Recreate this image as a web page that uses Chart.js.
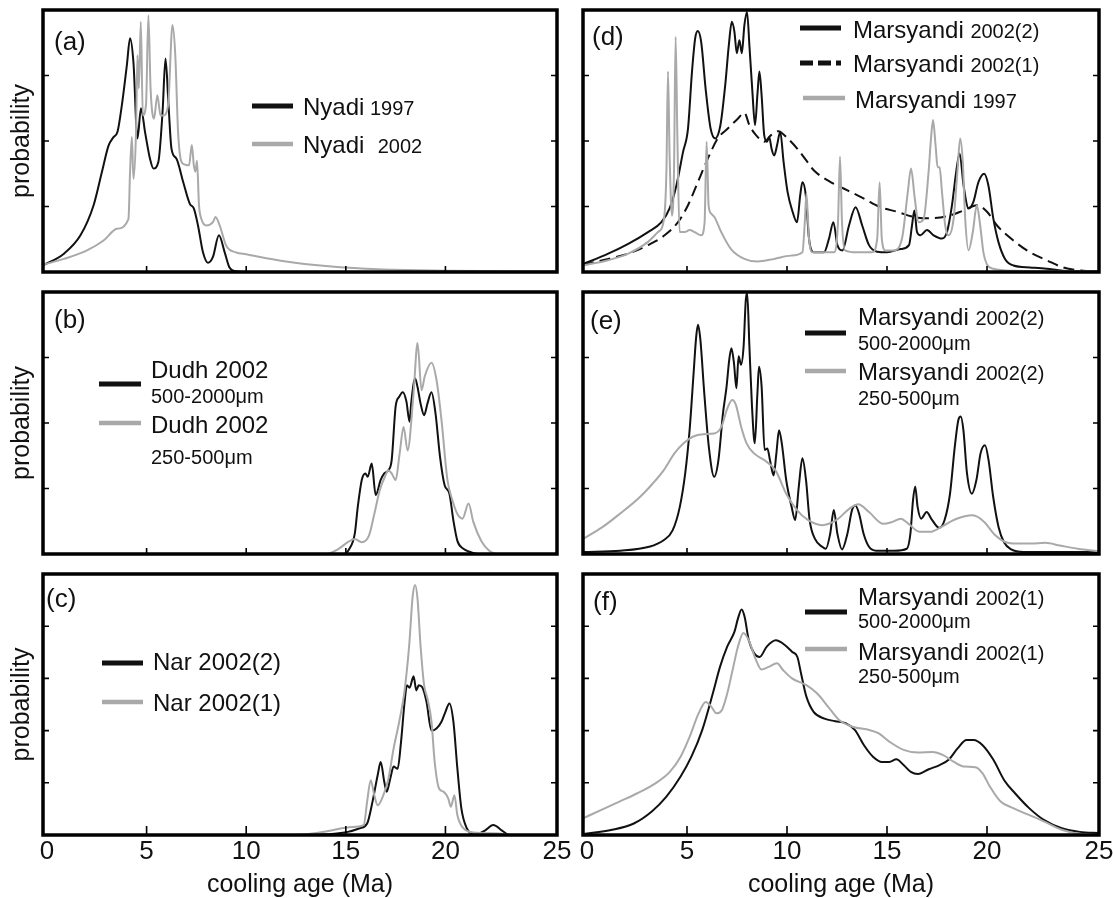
<!DOCTYPE html>
<html>
<head>
<meta charset="utf-8">
<script src="https://cdn.jsdelivr.net/npm/chart.js@4.4.0/dist/chart.umd.min.js"></script>
<style>
  html, body { margin: 0; padding: 0; background: #fff; overflow: hidden; }
  #wrap { position: relative; width: 1113px; height: 898px; }
  canvas { position: absolute; }
</style>
</head>
<body>
<div id="wrap">
  <canvas id="pa"></canvas>
  <canvas id="pb"></canvas>
  <canvas id="pc"></canvas>
  <canvas id="pd"></canvas>
  <canvas id="pe"></canvas>
  <canvas id="pf"></canvas>
</div>
<script>
/* x axis: cooling age (Ma) */
const xMin = -0.2, xMax = 25.6;
const xTickValues = [0, 5, 10, 15, 20, 25];
const xTickLabels = ['0', '5', '10', '15', '20', '25'];

/* (a) Nyadi -- [age, probability] */
const nyadi1997 = [[-0.2,0.1],[0.85,0.28],[1.68,0.56],[2.34,1.02],[2.76,1.53],[3.09,1.93],[3.34,2.06],[3.54,2.14],[3.76,2.55],[4.01,3.16],[4.17,3.57],[4.34,3.2],[4.54,2.04],[4.72,2.5],[4.92,2.14],[5.17,1.73],[5.34,1.58],[5.59,1.68],[5.8,2.44],[5.95,3.26],[6.1,2.55],[6.25,1.88],[6.5,1.73],[6.84,1.37],[7.17,1.04],[7.37,0.97],[7.58,0.71],[7.83,0.3],[8.08,0.14],[8.33,0.23],[8.63,0.56],[8.92,0.3],[9.16,0.07],[9.48,0.01],[10,0],[25.6,0]];
const nyadi2002 = [[-0.2,0.11],[0.85,0.2],[2.01,0.33],[2.84,0.48],[3.51,0.66],[4.09,0.81],[4.17,1.53],[4.26,2.06],[4.34,1.42],[4.47,2.14],[4.54,3.31],[4.61,2.8],[4.71,3.82],[4.81,2.39],[4.97,2.55],[5.09,3.92],[5.2,2.8],[5.37,2.34],[5.54,2.7],[5.7,2.39],[5.84,2.39],[6.08,2.55],[6.3,3.77],[6.44,3.31],[6.58,2.14],[6.75,1.68],[6.92,1.64],[7.13,1.63],[7.27,1.94],[7.37,1.63],[7.45,1.53],[7.53,1.7],[7.63,1.02],[7.75,0.81],[8.0,0.71],[8.33,0.76],[8.46,0.84],[8.67,0.71],[9.0,0.4],[9.48,0.3],[10,0.27],[12,0.16],[14,0.09],[16,0.05],[18,0.03],[20,0.02],[25.6,0.01]];

/* (b) Dudh 2002 */
const dudhCoarse = [[-0.2,0],[14.9,0],[15.18,0.08],[15.45,0.31],[15.6,0.72],[15.8,1.13],[15.98,1.23],[16.1,1.18],[16.3,1.38],[16.5,0.9],[16.75,1.13],[16.93,1.23],[17.14,1.28],[17.3,1.43],[17.5,2.25],[17.68,2.4],[17.86,2.47],[18.04,2.33],[18.2,2.02],[18.28,2.3],[18.48,2.68],[18.6,2.55],[18.75,2.3],[18.93,2.12],[19.1,2.3],[19.3,2.47],[19.5,2.15],[19.73,1.48],[19.96,1.05],[20.2,0.92],[20.4,0.51],[20.6,0.2],[20.9,0.08],[21.25,0.03],[21.6,0],[25.6,0]];
const dudhFine = [[-0.2,0],[14.0,0],[14.64,0.08],[15.1,0.18],[15.45,0.23],[15.8,0.18],[16.16,0.28],[16.43,0.61],[16.7,0.97],[16.96,1.18],[17.14,1.28],[17.3,1.23],[17.5,1.13],[17.7,1.53],[17.9,1.94],[18.1,1.58],[18.4,2.46],[18.6,3.22],[18.8,2.5],[18.96,2.71],[19.3,2.92],[19.55,2.66],[19.8,2.05],[20.1,1.13],[20.35,0.82],[20.6,0.61],[20.86,0.54],[21.16,0.77],[21.4,0.49],[21.8,0.2],[22.2,0.05],[22.6,0],[25.6,0]];

/* (c) Nar */
const nar2002_2 = [[-0.2,0],[12,0],[13.75,0.01],[15.1,0.06],[15.7,0.13],[16.07,0.22],[16.34,0.64],[16.6,1.15],[16.75,1.4],[16.93,1.02],[17.05,0.83],[17.23,1.08],[17.4,1.31],[17.6,1.27],[17.77,1.78],[17.95,2.55],[18.07,2.87],[18.2,2.82],[18.4,3.04],[18.54,2.77],[18.66,2.87],[18.84,2.83],[19.05,2.55],[19.3,2.0],[19.55,2.04],[19.8,2.17],[20.0,2.36],[20.2,2.52],[20.4,2.17],[20.6,1.27],[20.8,0.51],[21.07,0.13],[21.5,0.01],[21.96,0.08],[22.4,0.19],[22.86,0.08],[23.2,0],[25.6,0]];
const nar2002_1 = [[-0.2,0],[12.5,0],[14.2,0.08],[14.8,0.13],[15.5,0.16],[15.9,0.19],[16.07,0.64],[16.25,1.05],[16.43,0.76],[16.6,0.57],[16.88,0.76],[17.14,1.08],[17.4,1.66],[17.68,2.17],[17.95,2.77],[18.18,3.63],[18.36,4.59],[18.48,4.79],[18.6,4.52],[18.75,3.63],[18.93,2.87],[19.1,2.61],[19.3,2.17],[19.46,1.4],[19.68,0.89],[19.9,0.83],[20.14,0.7],[20.27,0.54],[20.45,0.76],[20.6,0.38],[20.9,0.13],[21.4,0.05],[22.7,0.03],[23.2,0],[25.6,0]];

/* (d) Marsyandi */
const marsyandi2002_2 = [[-0.2,0.12],[1.06,0.28],[2.06,0.43],[3.05,0.61],[3.72,0.76],[4.13,0.97],[4.47,1.32],[4.8,1.83],[5.05,2.19],[5.25,3.06],[5.41,3.57],[5.54,3.68],[5.71,3.51],[5.93,2.8],[6.18,2.19],[6.41,2.04],[6.67,2.24],[6.91,2.85],[7.09,3.46],[7.24,3.82],[7.37,3.67],[7.49,3.34],[7.62,3.54],[7.74,3.34],[7.87,3.77],[8.0,3.97],[8.13,3.41],[8.27,2.75],[8.4,2.24],[8.53,2.75],[8.62,3.06],[8.73,2.7],[8.86,2.09],[9.0,1.99],[9.11,2.06],[9.23,1.88],[9.36,1.78],[9.5,1.93],[9.66,2.14],[9.83,1.68],[10.03,1.22],[10.28,0.92],[10.5,0.76],[10.66,1.17],[10.77,1.37],[10.94,1.17],[11.1,0.51],[11.35,0.3],[11.85,0.3],[12.1,0.51],[12.32,0.76],[12.52,0.41],[12.77,0.33],[13.1,0.71],[13.43,0.99],[13.76,0.71],[14.1,0.41],[14.5,0.31],[15.0,0.3],[15.67,0.35],[16.1,0.41],[16.25,0.71],[16.37,0.94],[16.5,0.61],[16.67,0.56],[17.0,0.64],[17.33,0.56],[17.75,0.51],[18.0,0.61],[18.25,1.02],[18.46,1.53],[18.63,1.81],[18.83,1.32],[19.08,0.97],[19.32,1.07],[19.57,1.37],[19.86,1.5],[20.07,1.32],[20.32,0.81],[20.57,0.46],[20.9,0.2],[21.32,0.1],[22.15,0.07],[22.98,0.05],[23.8,0.02],[25.6,0.01]];
const marsyandi2002_1 = [[-0.2,0.11],[1.06,0.2],[2.06,0.28],[3.05,0.41],[3.88,0.56],[4.55,0.76],[5.05,1.02],[5.54,1.37],[6.04,1.73],[6.54,2.04],[7.04,2.19],[7.54,2.34],[7.87,2.43],[8.12,2.24],[8.45,2.09],[8.86,1.99],[9.2,2.09],[9.56,2.15],[10.03,2.04],[10.52,1.88],[11.02,1.68],[11.35,1.55],[12.2,1.37],[13.0,1.25],[13.85,1.12],[14.67,0.99],[15.5,0.92],[16.34,0.84],[17.0,0.82],[18.0,0.85],[18.83,0.94],[19.5,1.02],[20.0,0.92],[20.5,0.71],[21.32,0.48],[22.15,0.3],[22.98,0.18],[23.8,0.07],[24.8,0.02],[25.6,0.01]];
const marsyandi1997 = [[-0.2,0.1],[1.06,0.18],[2.06,0.28],[3.05,0.46],[3.55,0.61],[3.85,0.81],[3.97,1.53],[4.05,3.06],[4.13,1.78],[4.25,0.86],[4.35,1.53],[4.43,3.59],[4.52,2.04],[4.63,0.61],[4.88,0.61],[5.13,0.64],[5.38,0.61],[5.71,0.56],[5.88,0.76],[5.98,1.99],[6.08,1.02],[6.21,0.89],[6.37,0.84],[6.71,0.61],[7.2,0.35],[7.87,0.2],[8.53,0.16],[9.36,0.2],[10.19,0.25],[10.77,0.3],[10.89,0.76],[10.97,1.2],[11.1,0.51],[11.27,0.3],[11.69,0.3],[12.35,0.3],[12.55,0.76],[12.65,1.76],[12.75,0.76],[12.9,0.33],[13.5,0.3],[14.26,0.3],[14.51,0.51],[14.63,1.37],[14.74,0.51],[14.92,0.33],[15.34,0.33],[15.75,0.51],[16.04,1.22],[16.2,1.58],[16.39,1.12],[16.58,0.76],[16.83,0.81],[17.08,1.53],[17.2,2.04],[17.3,2.32],[17.43,1.93],[17.53,1.6],[17.63,1.6],[17.75,1.22],[17.91,0.71],[18.08,0.56],[18.33,0.81],[18.52,1.53],[18.66,2.04],[18.79,1.68],[18.91,0.81],[19.08,0.33],[19.29,0.61],[19.49,1.02],[19.66,0.71],[19.82,0.3],[19.99,0.12],[20.32,0.05],[21.3,0.02],[25.6,0.01]];

/* (e) Marsyandi 2002(2) by grain size */
const mars2Coarse = [[-0.2,0.03],[1.67,0.05],[3.1,0.11],[3.83,0.21],[4.28,0.36],[4.64,0.72],[4.91,1.23],[5.13,1.89],[5.33,2.76],[5.46,3.32],[5.55,3.5],[5.67,3.27],[5.85,2.51],[6.09,1.64],[6.36,1.18],[6.57,1.43],[6.8,2.15],[6.98,2.56],[7.11,2.96],[7.22,3.14],[7.35,2.91],[7.47,2.53],[7.58,3.02],[7.7,2.89],[7.83,3.17],[7.94,3.88],[8.01,3.98],[8.12,3.17],[8.25,2.25],[8.39,1.69],[8.52,2.45],[8.6,2.86],[8.73,2.56],[8.88,1.59],[9.02,1.61],[9.15,1.43],[9.33,1.2],[9.47,1.54],[9.6,1.89],[9.74,1.69],[9.96,1.13],[10.23,0.72],[10.41,0.52],[10.59,1.03],[10.77,1.46],[10.95,1.13],[11.13,0.52],[11.4,0.23],[11.76,0.11],[11.94,0.08],[12.16,0.31],[12.34,0.67],[12.52,0.31],[12.75,0.07],[13.02,0.31],[13.25,0.67],[13.42,0.74],[13.6,0.62],[13.83,0.31],[14.1,0.11],[14.46,0.05],[15.36,0.05],[15.99,0.08],[16.17,0.31],[16.3,0.82],[16.41,1.03],[16.53,0.72],[16.71,0.54],[16.98,0.64],[17.25,0.52],[17.61,0.4],[17.88,0.52],[18.15,0.92],[18.39,1.64],[18.57,2.05],[18.69,2.1],[18.82,1.89],[19.0,1.23],[19.24,0.92],[19.47,1.13],[19.68,1.54],[19.9,1.66],[20.08,1.43],[20.31,0.87],[20.58,0.41],[20.85,0.18],[21.21,0.07],[21.84,0.03],[25.6,0.03]];
const mars2Fine = [[-0.2,0.23],[0.77,0.41],[1.67,0.62],[2.58,0.85],[3.3,1.08],[3.84,1.28],[4.38,1.54],[4.83,1.69],[5.28,1.79],[5.82,1.83],[6.36,1.84],[6.72,1.94],[6.99,2.2],[7.26,2.35],[7.44,2.28],[7.71,1.94],[7.98,1.69],[8.34,1.54],[8.88,1.43],[9.42,1.28],[9.96,0.92],[10.5,0.67],[11.04,0.52],[11.76,0.44],[12.48,0.52],[13.11,0.69],[13.56,0.76],[14.1,0.64],[14.82,0.46],[15.27,0.49],[15.69,0.54],[16.08,0.46],[16.62,0.34],[17.16,0.34],[17.7,0.41],[18.42,0.53],[19.29,0.59],[19.86,0.49],[20.4,0.29],[20.94,0.18],[21.48,0.16],[22.2,0.16],[22.92,0.17],[23.64,0.13],[24.54,0.08],[25.6,0.04]];

/* (f) Marsyandi 2002(1) by grain size */
const mars1Coarse = [[-0.2,0.02],[1.26,0.1],[2.34,0.22],[3.24,0.45],[3.96,0.73],[4.68,1.12],[5.22,1.5],[5.76,2.01],[6.29,2.71],[6.65,3.22],[7.01,3.61],[7.37,3.89],[7.55,4.15],[7.73,4.32],[7.88,4.18],[8.09,3.73],[8.36,3.48],[8.63,3.41],[8.99,3.61],[9.44,3.73],[9.89,3.64],[10.25,3.51],[10.52,3.41],[10.7,3.1],[10.97,2.65],[11.33,2.36],[11.87,2.23],[12.41,2.18],[12.95,2.14],[13.4,2.01],[13.85,1.72],[14.3,1.5],[14.75,1.4],[15.11,1.4],[15.47,1.45],[15.83,1.34],[16.19,1.21],[16.55,1.17],[17.09,1.26],[17.63,1.34],[18.08,1.44],[18.53,1.66],[18.98,1.82],[19.33,1.82],[19.78,1.72],[20.32,1.44],[20.86,1.05],[21.4,0.8],[22.12,0.51],[22.84,0.29],[23.74,0.13],[24.64,0.06],[25.6,0.04]];
const mars1Fine = [[-0.2,0.32],[0.72,0.48],[1.62,0.64],[2.52,0.8],[3.42,0.99],[4.14,1.21],[4.68,1.5],[5.13,1.88],[5.58,2.33],[5.94,2.55],[6.21,2.46],[6.47,2.33],[6.74,2.39],[7.01,2.71],[7.28,3.16],[7.55,3.61],[7.82,3.87],[8.09,3.73],[8.42,3.38],[8.72,3.17],[9.08,3.22],[9.5,3.29],[9.8,3.16],[10.25,3.0],[10.97,2.87],[11.51,2.71],[12.05,2.46],[12.59,2.21],[13.31,2.07],[14.03,2.02],[14.57,1.95],[15.11,1.79],[15.83,1.63],[16.55,1.58],[17.27,1.59],[17.81,1.53],[18.35,1.4],[18.88,1.31],[19.42,1.3],[19.78,1.18],[20.14,0.93],[20.68,0.64],[21.22,0.53],[21.94,0.41],[22.84,0.26],[23.74,0.1],[24.64,0.02],[25.6,0]];

const FONT = "'Liberation Sans', Arial, Helvetica, sans-serif";
const BLACK = '#111111';
const GRAY = '#a9a9a9';

// canvas placement per row / column (page pixels)
const rows = [
  { top: 0, h: 282, xH: 10, tickLen: 6 },
  { top: 282, h: 282, xH: 10, tickLen: 6 },
  { top: 564, h: 334, xH: 63, tickLen: 9 }
];
const cols = [
  { left: 0, w: 600, yW: 43, padRight: 43 },
  { left: 560, w: 570, yW: 23, padRight: 31 }
];

const panels = [
  { id: 'pa', row: 0, col: 0, yMax: 4, label: '(a)', labelPos: [54, 50],
    series: [{ data: nyadi2002, color: GRAY }, { data: nyadi1997, color: BLACK }],
    legend: [
      { line: [252, 293, 106], color: BLACK, width: 5, tx: 303, ty: 115, text: [['Nyadi', 24], [' 1997', 20]] },
      { line: [252, 293, 144], color: GRAY, width: 4.5, tx: 303, ty: 153, text: [['Nyadi  ', 24], ['2002', 20]] }
    ] },
  { id: 'pb', row: 1, col: 0, yMax: 4, label: '(b)', labelPos: [54, 328],
    series: [{ data: dudhFine, color: GRAY }, { data: dudhCoarse, color: BLACK }],
    legend: [
      { line: [99, 141, 384], color: BLACK, width: 5, tx: 151, ty: 378, text: [['Dudh 2002', 24]], sub: '500-2000\u03bcm', sy: 403 },
      { line: [99, 141, 423], color: GRAY, width: 4.5, tx: 151, ty: 433, text: [['Dudh 2002', 24]], sub: '250-500\u03bcm', sy: 464 }
    ] },
  { id: 'pc', row: 2, col: 0, yMax: 5, label: '(c)', labelPos: [46, 607],
    series: [{ data: nar2002_1, color: GRAY }, { data: nar2002_2, color: BLACK }],
    legend: [
      { line: [102, 143, 663], color: BLACK, width: 5, tx: 153, ty: 670, text: [['Nar 2002(2)', 24]] },
      { line: [102, 143, 702], color: GRAY, width: 4.5, tx: 153, ty: 711, text: [['Nar 2002(1)', 24]] }
    ] },
  { id: 'pd', row: 0, col: 1, yMax: 4, label: '(d)', labelPos: [592, 45],
    series: [{ data: marsyandi1997, color: GRAY }, { data: marsyandi2002_1, color: BLACK, dash: [11, 6] }, { data: marsyandi2002_2, color: BLACK }],
    legend: [
      { line: [800, 841, 28], color: BLACK, width: 5, tx: 853, ty: 38, text: [['Marsyandi ', 24], ['2002(2)', 20]] },
      { line: [800, 841, 63], color: BLACK, width: 5, dash: [13, 5], tx: 853, ty: 72, text: [['Marsyandi ', 24], ['2002(1)', 20]] },
      { line: [803, 845, 98], color: GRAY, width: 4.5, tx: 855, ty: 108, text: [['Marsyandi ', 24], ['1997', 20]] }
    ] },
  { id: 'pe', row: 1, col: 1, yMax: 4, label: '(e)', labelPos: [590, 329],
    series: [{ data: mars2Fine, color: GRAY }, { data: mars2Coarse, color: BLACK }],
    legend: [
      { line: [805, 846, 333], color: BLACK, width: 5, tx: 858, ty: 325, text: [['Marsyandi ', 24], ['2002(2)', 20]], sub: '500-2000\u03bcm', sy: 350 },
      { line: [805, 846, 371], color: GRAY, width: 4.5, tx: 858, ty: 380, text: [['Marsyandi ', 24], ['2002(2)', 20]], sub: '250-500\u03bcm', sy: 405 }
    ] },
  { id: 'pf', row: 2, col: 1, yMax: 5, label: '(f)', labelPos: [593, 610],
    series: [{ data: mars1Fine, color: GRAY }, { data: mars1Coarse, color: BLACK }],
    legend: [
      { line: [805, 847, 612], color: BLACK, width: 5, tx: 858, ty: 605, text: [['Marsyandi ', 24], ['2002(1)', 20]], sub: '500-2000\u03bcm', sy: 628 },
      { line: [805, 847, 649], color: GRAY, width: 4.5, tx: 858, ty: 660, text: [['Marsyandi ', 24], ['2002(1)', 20]], sub: '250-500\u03bcm', sy: 683 }
    ] }
];

// thick box with inward tick marks
function framePlugin(tickLen) {
  return {
    id: 'frame',
    afterDraw(chart) {
      const { ctx, chartArea: a, scales: { x, y } } = chart;
      ctx.save();
      ctx.strokeStyle = '#000';
      ctx.lineWidth = 1.6;
      ctx.beginPath();
      for (let v = 1; v < y.max; v++) {
        const py = y.getPixelForValue(v);
        ctx.moveTo(a.left, py); ctx.lineTo(a.left + 6, py);
        ctx.moveTo(a.right, py); ctx.lineTo(a.right - 6, py);
      }
      xTickValues.slice(1, -1).forEach(v => {
        const px = x.getPixelForValue(v);
        ctx.moveTo(px, a.bottom); ctx.lineTo(px, a.bottom - tickLen);
      });
      ctx.stroke();
      ctx.lineWidth = 3.5;
      ctx.strokeRect(a.left, a.top, a.right - a.left, a.bottom - a.top);
      ctx.restore();
    }
  };
}

// panel letter and legend, drawn as canvas text
function textPlugin(p, ox, oy) {
  return {
    id: 'panelText',
    afterDraw(chart) {
      const ctx = chart.ctx;
      ctx.save();
      ctx.fillStyle = '#111';
      ctx.textBaseline = 'alphabetic';
      ctx.font = '26px ' + FONT;
      ctx.fillText(p.label, p.labelPos[0] - ox, p.labelPos[1] - oy);
      p.legend.forEach(it => {
        ctx.strokeStyle = it.color;
        ctx.lineWidth = it.width;
        ctx.setLineDash(it.dash || []);
        ctx.beginPath();
        ctx.moveTo(it.line[0] - ox, it.line[2] - oy);
        ctx.lineTo(it.line[1] - ox, it.line[2] - oy);
        ctx.stroke();
        ctx.setLineDash([]);
        let tx = it.tx - ox;
        it.text.forEach(([t, size]) => {
          ctx.font = size + 'px ' + FONT;
          ctx.fillText(t, tx, it.ty - oy);
          tx += ctx.measureText(t).width;
        });
        if (it.sub) {
          ctx.font = '20px ' + FONT;
          ctx.fillText(it.sub, it.tx - ox, it.sy - oy);
        }
      });
      ctx.restore();
    }
  };
}

panels.forEach(p => {
  const r = rows[p.row], c = cols[p.col];
  const canvas = document.getElementById(p.id);
  canvas.width = c.w;
  canvas.height = r.h;
  canvas.style.left = c.left + 'px';
  canvas.style.top = r.top + 'px';
  const bottomRow = p.row === 2;

  new Chart(canvas.getContext('2d'), {
    type: 'line',
    data: {
      datasets: p.series.map(s => ({
        data: s.data.map(([a, v]) => ({ x: a, y: v })),
        borderColor: s.color,
        borderWidth: 2,
        borderDash: s.dash || [],
        pointRadius: 0,
        fill: false,
        cubicInterpolationMode: 'monotone'
      }))
    },
    options: {
      responsive: false,
      animation: false,
      events: [],
      layout: { padding: { top: 10, right: c.padRight, bottom: 0, left: 0 } },
      plugins: { legend: { display: false }, tooltip: { enabled: false } },
      scales: {
        x: {
          type: 'linear',
          min: xMin,
          max: xMax,
          afterBuildTicks: s => { s.ticks = xTickValues.map(v => ({ value: v === 25 ? xMax : v })); },
          afterFit: s => { s.height = r.xH; },
          grid: { display: false, drawTicks: false },
          border: { display: false },
          ticks: {
            display: bottomRow,
            autoSkip: false,
            maxRotation: 0,
            minRotation: 0,
            padding: 1,
            color: '#111',
            font: { family: FONT, size: 26 },
            callback: (v, i) => xTickLabels[i]
          },
          title: {
            display: bottomRow,
            text: 'cooling age (Ma)',
            color: '#111',
            font: { family: FONT, size: 25, lineHeight: 1.0 },
            padding: { top: 0, bottom: 0 }
          }
        },
        y: {
          min: 0,
          max: p.yMax,
          afterFit: s => { s.width = c.yW; },
          grid: { display: false, drawTicks: false },
          border: { display: false },
          ticks: { display: false, stepSize: 1 },
          title: {
            display: p.col === 0,
            text: 'probability',
            color: '#111',
            font: { family: FONT, size: 25, lineHeight: 1.2 },
            padding: { top: 7, bottom: 0 }
          }
        }
      }
    },
    plugins: [framePlugin(r.tickLen), textPlugin(p, c.left, r.top)]
  });
});
</script>
</body>
</html>
